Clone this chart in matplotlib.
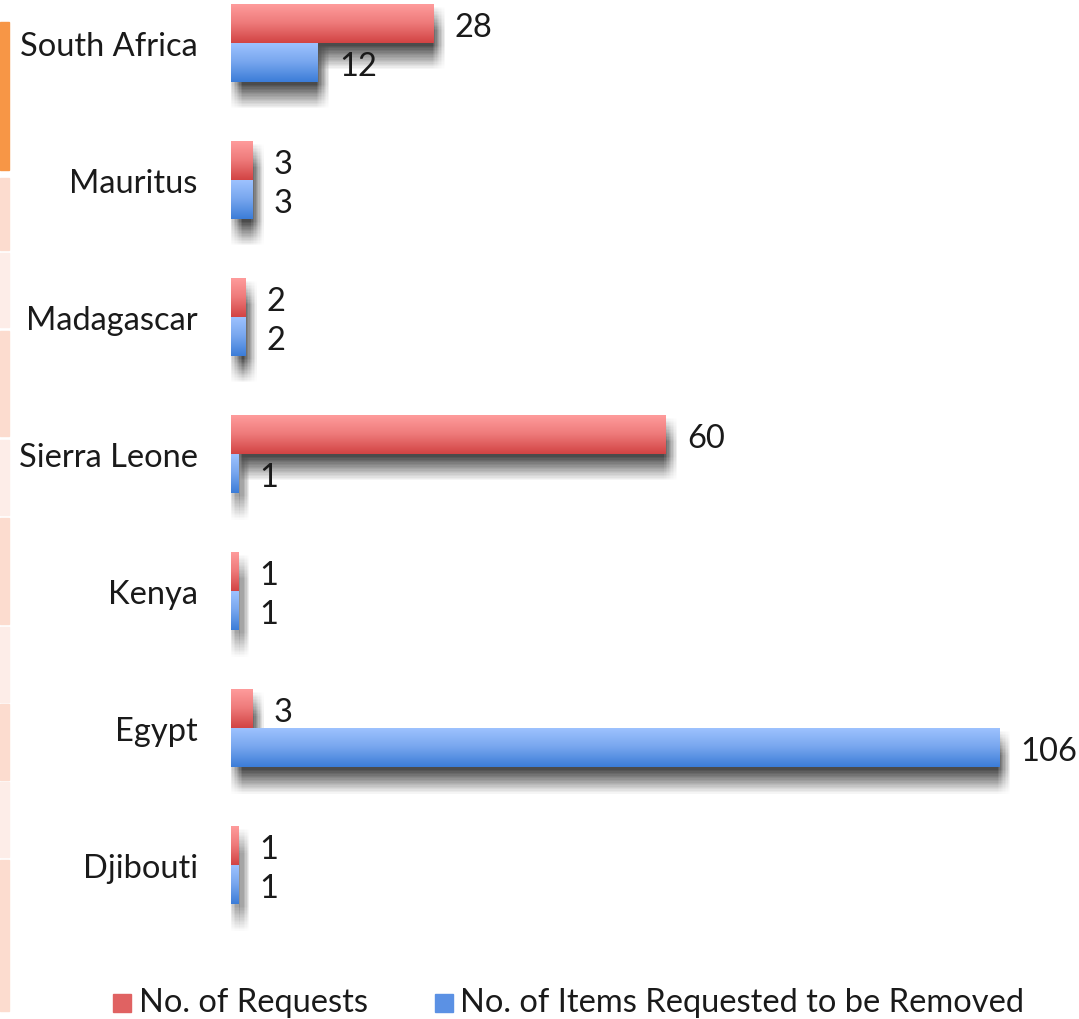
import numpy as np
import matplotlib.pyplot as plt
import matplotlib.patheffects as pe
from matplotlib.colors import LinearSegmentedColormap
from matplotlib.patches import Rectangle

countries = ["South Africa", "Mauritus", "Madagascar", "Sierra Leone", "Kenya", "Egypt", "Djibouti"]
requests = [28, 3, 2, 60, 1, 3, 1]
items_removed = [12, 3, 2, 1, 1, 106, 1]
series_names = ["No. of Requests", "No. of Items Requested to be Removed"]

plt.rcParams['font.family'] = ['Lato', 'DejaVu Sans']

red_cmap = LinearSegmentedColormap.from_list("red_grad", ["#ff9d9d", "#ee7a7a", "#d24444"])
blue_cmap = LinearSegmentedColormap.from_list("blue_grad", ["#9fc3ff", "#77a6ee", "#3c7dd8"])

fig = plt.figure(figsize=[10.79, 10.2], dpi=100)
W, H = 1079.0, 1020.0
fs = 23.5

# side stripe (cropped piece of a neighbouring element)
stripe = [(23, 171, "#f79646"), (179, 251, "#fcdccf"), (254, 328, "#fdede8"),
          (332, 437, "#fcdccf"), (441, 516, "#fdede8"), (519, 625, "#fcdccf"),
          (628, 703, "#fdede8"), (705, 781, "#fcdccf"), (783, 858, "#fdede8"),
          (861, 1012, "#fcdccf")]
for top, bot, col in stripe:
    fig.patches.append(Rectangle((0, 1 - bot / H), 9 / W, (bot - top) / H,
                                 transform=fig.transFigure, color=col, zorder=0))

ax = fig.add_axes([231 / W, 40 / H, (W - 231) / W, (H - 40) / H])
bar_h = 0.285
y = np.arange(len(countries))

# soft shadow made of many faint offset copies
shadow = []
for dx in np.arange(-1, 9, 1.0):
    for dy in np.arange(2, 20, 1.0):
        shadow.append(pe.SimplePatchShadow(offset=(dx, -dy), shadow_rgbFace="black", alpha=0.0026))
shadow.append(pe.Normal())

def gradient_bars(ypos, values, cmap):
    bars = ax.barh(ypos, values, height=bar_h, color="none", edgecolor="none", zorder=2,
                   path_effects=shadow)
    grad = np.linspace(0, 1, 64).reshape(-1, 1)
    for b in bars:
        x0, y0, w, h = b.get_x(), b.get_y(), b.get_width(), b.get_height()
        im = ax.imshow(grad, cmap=cmap, aspect="auto", extent=(x0, x0 + w, y0 + h, y0),
                       zorder=3, interpolation="bilinear")
        im.set_clip_path(b)
    return bars

gradient_bars(y - bar_h / 2, requests, red_cmap)
gradient_bars(y + bar_h / 2, items_removed, blue_cmap)

nudge = 0.025
for i in range(len(countries)):
    ax.text(requests[i] + 2.9, y[i] - bar_h / 2 + nudge, str(requests[i]), va="center", ha="left",
            fontsize=fs, color="#1a1a1a")
    ax.text(items_removed[i] + 2.9, y[i] + bar_h / 2 + nudge, str(items_removed[i]), va="center",
            ha="left", fontsize=fs, color="#1a1a1a")

ax.set_xlim(0, 117)
ax.set_ylim(6.83, -0.32)
ax.set_yticks(y)
ax.set_yticklabels(countries, fontsize=fs, color="#1a1a1a")
ax.tick_params(axis="y", length=0, pad=24)
ax.set_xticks([])
for s in ax.spines.values():
    s.set_visible(False)
ax.patch.set_alpha(0)

# legend
fig.patches.append(Rectangle((113 / W, 1 - 1013 / H), 18 / W, 18 / H, transform=fig.transFigure,
                             color="#e06262", zorder=3))
fig.patches.append(Rectangle((435 / W, 1 - 1013 / H), 18 / W, 18 / H, transform=fig.transFigure,
                             color="#5b91e4", zorder=3))
fig.text(139 / W, 1 - 1003 / H, series_names[0], fontsize=fs, va="center", ha="left", color="#1a1a1a")
fig.text(460 / W, 1 - 1003 / H, series_names[1], fontsize=fs, va="center", ha="left", color="#1a1a1a")

plt.savefig("out.png", dpi=100)
